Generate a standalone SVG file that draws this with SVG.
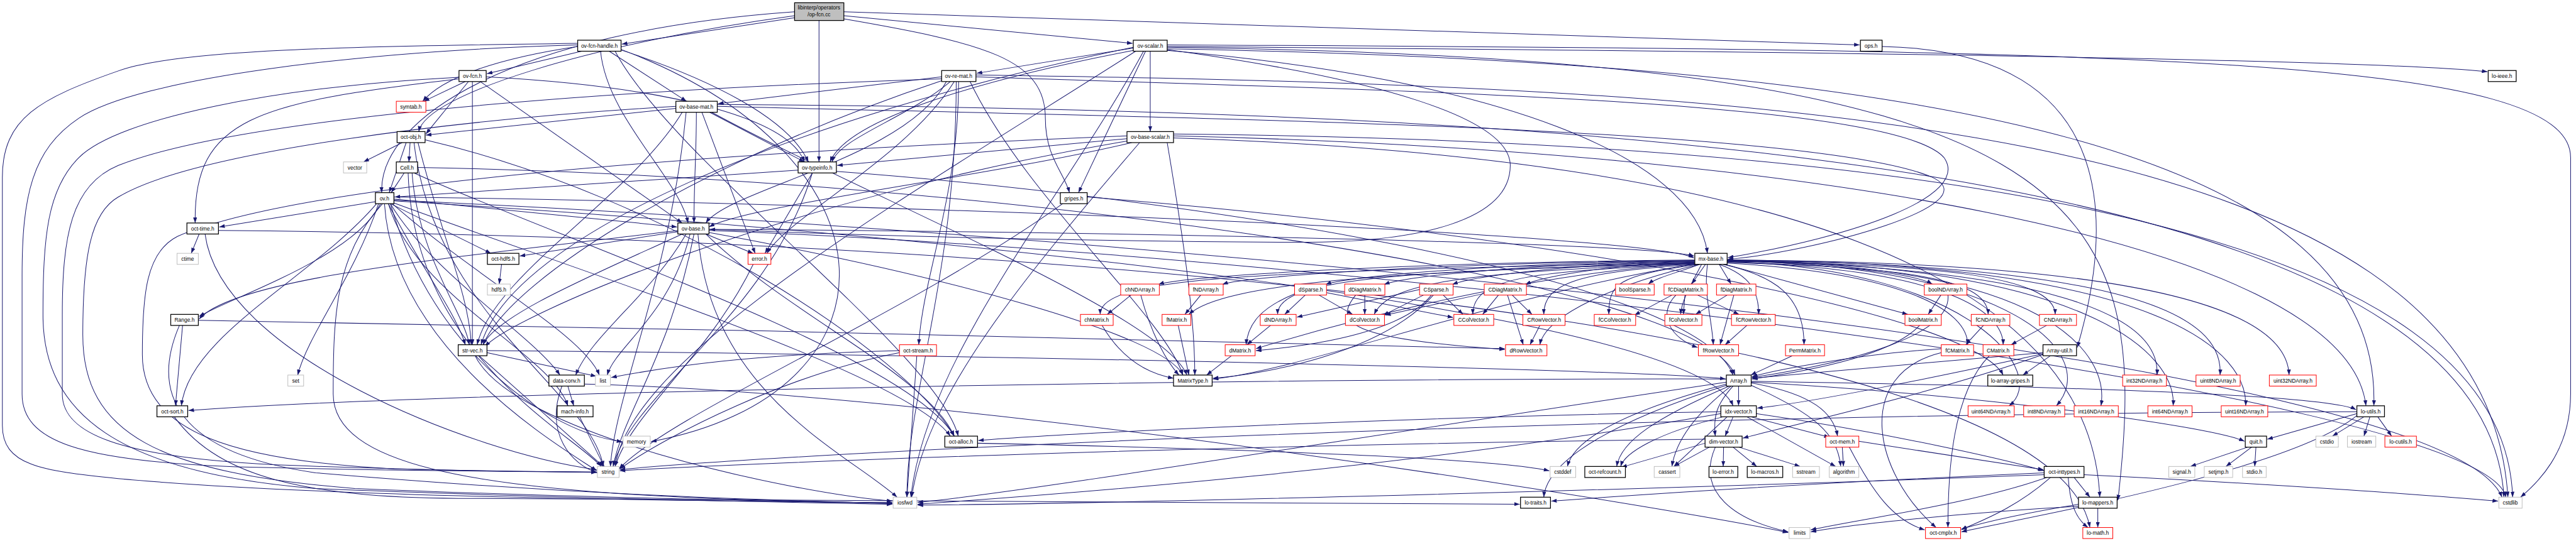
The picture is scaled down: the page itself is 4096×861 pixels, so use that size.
<svg xmlns="http://www.w3.org/2000/svg" width="4096" height="861" viewBox="0 0 4096 861">
<style>
.b rect{fill:#fff;stroke:#000;stroke-width:2}
.r rect{fill:#fff;stroke:#f00;stroke-width:1.6}
.g rect{fill:#fff;stroke:#bfbfbf;stroke-width:1.6}
.root rect{fill:#bfbfbf;stroke:#000;stroke-width:2}
text{font-family:"Liberation Sans",Arial,sans-serif;font-size:13.5px;text-anchor:middle;fill:#000}
#edges path{fill:none;stroke:#191970;stroke-width:1.6;marker-end:url(#a)}
</style>
<defs>
<marker id="a" viewBox="0 0 14 10" refX="14" refY="5" markerWidth="14" markerHeight="10" markerUnits="userSpaceOnUse" orient="auto"><path d="M0,0 L14,5 L0,10 z" fill="#191970"/></marker>
</defs>
<rect width="4096" height="861" fill="#fff"/>
<g transform="scale(0.627)">
<g id="edges">
<path d="M2015,45 L1577,112"/>
<path d="M2140,40 L2872,110"/>
<path d="M2140,30 L4716,114"/>
<path d="M2077,52 L2077,411"/>
<path d="M2140,48 C2500,110 2651,150 2651,300 C2651,400 2700,440 2712,489"/>
<path d="M2015,40 C1500,110 1080,240 1062,334"/>
<path d="M2015,30 C1300,80 960,300 968,489"/>
<path d="M1475,130 L1235,187"/>
<path d="M1545,130 L1741,257"/>
<path d="M1523,130 C1540,300 1720,450 1745,566"/>
<path d="M1575,127 C1800,200 2000,300 2050,411"/>
<path d="M1465,118 C1250,150 1120,200 1072,257"/>
<path d="M1560,130 C1700,400 2380,900 2430,1107"/>
<path d="M1465,110 C900,118 450,125 300,180 C100,250 6,300 6,450 L6,1080 C6,1180 100,1195 300,1215 C800,1260 1600,1270 2263,1276"/>
<path d="M1465,114 C900,130 350,200 200,300 C80,380 56,500 56,700 L56,1000 C56,1120 200,1170 600,1185 C1000,1195 1300,1197 1513,1198"/>
<path d="M1574,125 C2300,400 2300,1000 1651,1121"/>
<path d="M2874,122 L2477,186"/>
<path d="M2917,130 L2917,334"/>
<path d="M2905,130 L2735,489"/>
<path d="M2960,126 C3500,200 3830,300 3830,420 C3830,560 3600,615 3300,615 C2600,612 2000,590 1800,582"/>
<path d="M2874,128 C2500,200 2150,300 2105,411"/>
<path d="M2874,120 C2000,300 1300,600 1220,875"/>
<path d="M2960,118 C4500,130 6000,150 6308,182"/>
<path d="M2960,120 C5300,150 5460,500 5371,1270"/>
<path d="M2960,124 C5000,160 6040,400 6020,1030"/>
<path d="M2960,128 C3800,200 4300,400 4330,643"/>
<path d="M2960,114 C5500,125 6519,150 6519,400 L6519,1000 C6519,1150 6430,1230 6392,1262"/>
<path d="M2900,130 C2700,500 2350,900 2310,1262"/>
<path d="M2880,130 C2300,500 1600,900 1560,1184"/>
<path d="M4773,118 C5400,130 5350,600 5268,882"/>
<path d="M1180,207 L1075,257"/>
<path d="M1188,207 L1080,340"/>
<path d="M1218,207 L1730,566"/>
<path d="M1233,195 C1700,220 2000,300 2040,411"/>
<path d="M1198,207 L1198,875"/>
<path d="M1164,200 C650,260 490,300 495,566"/>
<path d="M1164,196 C700,220 300,300 200,400 C120,480 109,600 109,800 C109,1050 300,1200 800,1240 C1400,1265 2000,1275 2263,1280"/>
<path d="M2388,195 L1821,263"/>
<path d="M2400,207 C2300,400 1850,480 1790,566"/>
<path d="M2410,207 C2300,300 2130,350 2110,411"/>
<path d="M2475,195 C3500,230 4800,250 4930,400 C5000,500 4700,600 4382,654"/>
<path d="M2388,205 C1800,400 1300,700 1225,875"/>
<path d="M2420,207 C2300,400 2000,550 1945,643"/>
<path d="M2431,207 C2431,500 2340,700 2330,875"/>
<path d="M2460,207 C2600,500 2950,800 3000,952"/>
<path d="M2475,190 C4500,220 6300,300 6360,1262"/>
<path d="M2425,207 C2425,700 2300,1000 2300,1262"/>
<path d="M2388,200 C1500,230 600,300 300,420 C180,470 158,600 158,800 L158,1000 C158,1100 300,1160 700,1180 C1100,1195 1350,1198 1513,1199"/>
<path d="M1766,285 C1766,400 1760,450 1760,566"/>
<path d="M1714,275 L1080,343"/>
<path d="M1800,285 L2040,411"/>
<path d="M1780,285 L1915,643"/>
<path d="M1819,270 C3000,300 4600,320 4900,450 C5050,520 4600,640 4382,658"/>
<path d="M1730,285 C1600,500 1250,700 1210,875"/>
<path d="M1805,285 C2200,500 2950,800 3010,952"/>
<path d="M1819,265 C4000,280 6300,400 6350,1262"/>
<path d="M1714,270 C1200,300 500,380 300,500 C230,540 210,650 210,850 C210,1100 400,1200 900,1240 C1500,1265 2000,1272 2263,1278"/>
<path d="M1740,285 C1700,700 1560,1000 1548,1184"/>
<path d="M1020,362 L922,411"/>
<path d="M1040,362 L1037,411"/>
<path d="M1030,362 L987,489"/>
<path d="M1060,362 C1120,600 1190,750 1195,875"/>
<path d="M1078,355 C1700,500 2300,900 2420,1107"/>
<path d="M1050,362 C1100,800 1500,1000 1530,1184"/>
<path d="M2858,352 L2123,420"/>
<path d="M2870,362 C2500,450 1900,520 1798,576"/>
<path d="M2858,358 C2000,500 1300,800 1230,880"/>
<path d="M2960,362 C3000,600 3030,800 3030,952"/>
<path d="M2976,350 C4500,400 5300,700 5325,1262"/>
<path d="M2976,345 C4500,380 5950,600 6000,1030"/>
<path d="M2976,340 C5000,360 6350,600 6372,1262"/>
<path d="M2890,362 C2600,700 2350,1000 2312,1262"/>
<path d="M2858,345 C2000,380 800,450 450,600 C370,640 361,750 361,900 C361,1100 600,1170 1000,1190 C1300,1197 1450,1198 1513,1198"/>
<path d="M1025,439 L992,489"/>
<path d="M1059,425 C2500,450 4300,700 4400,952"/>
<path d="M1050,439 C1400,600 2300,900 2420,1107"/>
<path d="M1045,439 C1060,650 1180,800 1190,875"/>
<path d="M1035,439 C1050,900 1450,1100 1525,1184"/>
<path d="M2024,432 L1001,500"/>
<path d="M2121,435 C3000,500 4300,700 4395,952"/>
<path d="M2060,439 L1940,643"/>
<path d="M2060,439 C1950,800 1600,1000 1555,1184"/>
<path d="M952,512 L556,576"/>
<path d="M999,505 L1717,576"/>
<path d="M965,517 C900,650 600,750 505,803"/>
<path d="M990,517 C1100,700 1350,850 1420,952"/>
<path d="M999,510 C2500,600 4300,800 4395,1030"/>
<path d="M985,517 C1050,750 1400,900 1440,1030"/>
<path d="M999,500 C2500,520 4200,600 4296,655"/>
<path d="M999,515 C1500,700 2300,950 2410,1107"/>
<path d="M985,517 C1050,650 1160,800 1180,875"/>
<path d="M990,517 L1245,643"/>
<path d="M955,517 C800,700 480,850 460,1030"/>
<path d="M995,517 C1200,700 1480,850 1520,952"/>
<path d="M975,517 C1000,900 1450,1150 1513,1195"/>
<path d="M970,517 C850,650 845,800 845,1000 C845,1180 1200,1240 1800,1265 C2100,1275 2200,1276 2263,1276"/>
<path d="M999,508 C3000,600 6200,900 6345,1262"/>
<path d="M960,517 C900,700 780,850 755,952"/>
<path d="M990,517 C1100,900 1400,1100 1578,1121"/>
<path d="M2757,500 C4000,600 5000,800 5080,952"/>
<path d="M2695,517 C2300,800 1700,1050 1570,1190"/>
<path d="M505,594 L485,643"/>
<path d="M554,585 C2500,600 5200,800 5300,1339"/>
<path d="M520,594 C560,900 1200,1150 1513,1192"/>
<path d="M1790,594 L1910,643"/>
<path d="M1719,588 L1318,650"/>
<path d="M1719,585 C1200,650 600,700 505,810"/>
<path d="M1740,594 C1650,750 1500,850 1460,952"/>
<path d="M1798,582 C3000,590 4200,620 4296,650"/>
<path d="M1730,594 C1500,700 1260,800 1225,875"/>
<path d="M1798,590 C2400,700 2950,850 3000,952"/>
<path d="M1750,594 C1700,800 1560,880 1540,952"/>
<path d="M1760,594 C1700,900 1580,1050 1555,1184"/>
<path d="M1770,594 C1800,1000 2150,1150 2275,1262"/>
<path d="M1798,585 C3500,650 6300,1000 6355,1262"/>
<path d="M1790,594 C2000,800 2350,950 2420,1107"/>
<path d="M1272,671 L1266,721"/>
<path d="M1910,671 C1800,900 1600,1050 1560,1184"/>
<path d="M4298,660 C3600,665 3000,700 2938,722"/>
<path d="M4298,661 C3700,666 3160,700 3100,722"/>
<path d="M4298,662 C3830,667 3420,700 3362,722"/>
<path d="M4298,663 C3900,668 3570,700 3510,722"/>
<path d="M4298,664 C4000,669 3740,700 3683,722"/>
<path d="M4298,665 C4100,670 3920,700 3868,722"/>
<path d="M4310,671 C4260,690 4200,705 4180,721"/>
<path d="M4325,671 L4290,721"/>
<path d="M4360,671 L4390,721"/>
<path d="M4380,660 C4600,670 4850,690 4900,721"/>
<path d="M4298,666 C3200,690 2790,700 2790,798"/>
<path d="M4298,667 C3500,690 3100,720 3015,798"/>
<path d="M4298,668 C3600,690 3240,700 3240,798"/>
<path d="M4298,669 C3700,690 3520,720 3485,798"/>
<path d="M4298,670 C3900,690 3735,700 3735,798"/>
<path d="M4300,671 C4000,690 3915,720 3915,798"/>
<path d="M4305,671 C4100,700 4080,720 4080,798"/>
<path d="M4315,671 C4290,720 4265,760 4262,798"/>
<path d="M4360,671 C4440,700 4460,740 4460,798"/>
<path d="M4375,671 L4838,798"/>
<path d="M4380,665 C4800,680 5040,700 5042,798"/>
<path d="M4380,663 C4900,670 5210,700 5212,798"/>
<path d="M4298,668 C3800,700 3300,850 3185,885"/>
<path d="M4310,671 C4100,720 3920,800 3905,875"/>
<path d="M4330,671 C4320,750 4340,800 4345,875"/>
<path d="M4370,671 C4500,700 4575,750 4575,875"/>
<path d="M4380,668 C4800,690 4990,780 4990,875"/>
<path d="M4380,666 C4900,680 5080,780 5080,875"/>
<path d="M4298,670 C3800,750 3300,940 3076,962"/>
<path d="M4380,662 C5200,680 5480,800 5470,952"/>
<path d="M4380,661 C5400,670 5640,800 5630,952"/>
<path d="M4380,660 C5500,665 5800,800 5805,952"/>
<path d="M4380,664 C5000,680 5200,950 5095,1030"/>
<path d="M4380,663 C5100,670 5330,900 5215,1030"/>
<path d="M4380,662 C5200,670 5350,900 5328,1030"/>
<path d="M4380,661 C5300,670 5520,900 5511,1030"/>
<path d="M4380,660 C5500,665 5700,900 5695,1030"/>
<path d="M2868,749 L2808,798"/>
<path d="M2893,749 C2920,850 2960,920 2990,952"/>
<path d="M3045,749 L3005,798"/>
<path d="M2795,826 C2850,920 2920,950 2976,960"/>
<path d="M2988,826 L3015,952"/>
<path d="M3123,903 L3060,952"/>
<path d="M3310,749 L3258,798"/>
<path d="M3345,749 L3430,798"/>
<path d="M3364,743 L3685,806"/>
<path d="M3283,746 C3200,780 3165,820 3160,875"/>
<path d="M3461,749 L3461,798"/>
<path d="M3438,749 C3380,820 3420,860 3816,887"/>
<path d="M3600,735 L3289,805"/>
<path d="M3610,749 L3508,800"/>
<path d="M3660,749 L3710,798"/>
<path d="M3630,749 C3550,850 3300,880 3185,890"/>
<path d="M3635,749 C3500,900 3200,950 3076,960"/>
<path d="M3800,749 L3760,798"/>
<path d="M3835,749 L3885,798"/>
<path d="M3823,749 L3863,875"/>
<path d="M3764,745 L3513,800"/>
<path d="M3905,826 L3880,875"/>
<path d="M3222,826 L3162,875"/>
<path d="M4273,749 L4269,798"/>
<path d="M4240,749 L4145,800"/>
<path d="M4305,749 L4410,798"/>
<path d="M4250,749 C4200,800 4240,860 4305,882"/>
<path d="M4380,749 L4300,798"/>
<path d="M4397,749 L4362,875"/>
<path d="M4430,826 L4375,875"/>
<path d="M4922,749 L4890,798"/>
<path d="M4940,749 C4950,850 4700,920 4443,958"/>
<path d="M4868,826 C4800,900 4600,940 4443,962"/>
<path d="M5030,826 L4985,875"/>
<path d="M5190,826 L5100,875"/>
<path d="M4545,903 L4440,952"/>
<path d="M4923,895 C4700,950 4750,1200 4910,1339"/>
<path d="M5045,903 C4950,1000 4940,1200 4940,1339"/>
<path d="M4923,885 C4700,900 4500,940 4443,956"/>
<path d="M5181,895 C4900,920 4600,945 4443,960"/>
<path d="M5200,903 L5130,952"/>
<path d="M5181,900 C4900,1000 4500,1090 4420,1112"/>
<path d="M5181,898 C4900,960 4600,1020 4456,1036"/>
<path d="M4409,980 L4409,1030"/>
<path d="M4395,980 C4350,1030 4345,1060 4350,1107"/>
<path d="M4441,972 C4600,1000 4650,1050 4660,1107"/>
<path d="M4441,978 C4600,1050 4660,1100 4668,1184"/>
<path d="M4390,980 C4300,1050 4250,1120 4240,1184"/>
<path d="M4378,975 C4100,1050 3990,1120 3975,1184"/>
<path d="M4385,980 C4200,1060 4110,1120 4100,1184"/>
<path d="M4378,978 C4000,1100 3920,1200 3915,1262"/>
<path d="M4441,968 C5200,980 5900,1000 5975,1040"/>
<path d="M4378,962 C3000,960 1000,1000 478,1042"/>
<path d="M4441,970 C5000,1000 5600,1080 5692,1120"/>
<path d="M4378,970 C3500,1100 2600,1250 2327,1275"/>
<path d="M4395,1058 L4375,1107"/>
<path d="M4454,1050 C4800,1100 5100,1170 5184,1195"/>
<path d="M4440,1058 L4640,1110"/>
<path d="M4430,1058 L4655,1184"/>
<path d="M4380,1058 L4245,1184"/>
<path d="M4364,1045 C3500,1060 2700,1100 2481,1118"/>
<path d="M4370,1058 C4200,1100 4120,1150 4110,1184"/>
<path d="M4364,1050 C3500,1200 2600,1260 2327,1280"/>
<path d="M4371,1135 L4370,1184"/>
<path d="M4395,1135 L4455,1184"/>
<path d="M4410,1135 L4565,1184"/>
<path d="M4335,1135 L4245,1184"/>
<path d="M4350,1135 C4300,1250 4400,1320 4535,1350"/>
<path d="M4324,1125 L4112,1186"/>
<path d="M4324,1115 C3000,1130 1800,1180 1572,1195"/>
<path d="M4672,1135 L4675,1184"/>
<path d="M4690,1135 C4750,1250 4800,1320 4881,1345"/>
<path d="M4714,1120 C4900,1150 5100,1180 5182,1192"/>
<path d="M5260,1212 L5300,1262"/>
<path d="M5245,1212 C5250,1290 5270,1320 5295,1339"/>
<path d="M5190,1212 C5000,1280 4700,1320 4592,1345"/>
<path d="M5200,1212 C5100,1300 5000,1330 4974,1345"/>
<path d="M5184,1200 C4500,1230 4100,1260 3934,1272"/>
<path d="M5285,1205 C5800,1230 6200,1260 6335,1272"/>
<path d="M5184,1205 C4000,1250 2700,1280 2327,1282"/>
<path d="M5320,1290 L5320,1339"/>
<path d="M5271,1280 C5150,1300 5050,1320 4974,1343"/>
<path d="M5271,1285 C5000,1300 4700,1330 4592,1350"/>
<path d="M5995,1058 L5915,1107"/>
<path d="M6010,1058 L5995,1107"/>
<path d="M6030,1058 L6065,1107"/>
<path d="M5977,1050 L5750,1115"/>
<path d="M5977,1055 C5800,1200 5100,1320 4974,1350"/>
<path d="M5977,1045 C4000,1050 2000,1150 1572,1192"/>
<path d="M5700,1135 L5555,1184"/>
<path d="M5710,1135 L5645,1184"/>
<path d="M5721,1135 L5718,1184"/>
<path d="M1235,895 L1512,955"/>
<path d="M1215,903 L1530,1184"/>
<path d="M1235,890 C2500,900 4200,940 4376,962"/>
<path d="M1205,903 C1300,1100 2000,1250 2263,1272"/>
<path d="M1440,980 L1455,1030"/>
<path d="M1482,975 C2500,1000 4300,1300 4535,1352"/>
<path d="M1425,980 C1380,1100 1450,1180 1515,1200"/>
<path d="M1470,1058 L1532,1184"/>
<path d="M463,826 L445,1030"/>
<path d="M503,813 C1500,830 3000,860 3816,885"/>
<path d="M455,826 C380,1000 450,1150 800,1200 C1500,1260 2000,1270 2263,1278"/>
<path d="M442,1058 C560,1220 800,1265 1200,1265 C2500,1265 3700,1275 3854,1280"/>
<path d="M2479,1125 C3200,1140 3800,1165 3929,1195"/>
<path d="M2325,903 L2300,1262"/>
<path d="M2281,895 C2000,950 1700,1100 1572,1190"/>
<path d="M2281,890 C1900,900 1700,930 1550,958"/>
</g>
<g id="n-root" class="root"><rect x="2015" y="7" width="125" height="45"/><text x="2077" y="24.5">libinterp/operators</text><text x="2077" y="41">/op-fcn.cc</text></g>
<g id="n-ovfh" class="b"><rect x="1465" y="102" width="110" height="28"/><text x="1520" y="121">ov-fcn-handle.h</text></g>
<g id="n-ovsc" class="b"><rect x="2874" y="102" width="86" height="28"/><text x="2917" y="121">ov-scalar.h</text></g>
<g id="n-ops" class="b"><rect x="4718" y="102" width="55" height="28"/><text x="4745" y="121">ops.h</text></g>
<g id="n-ovfcn" class="b"><rect x="1164" y="179" width="69" height="28"/><text x="1198" y="198">ov-fcn.h</text></g>
<g id="n-ovrm" class="b"><rect x="2388" y="179" width="87" height="28"/><text x="2431" y="198">ov-re-mat.h</text></g>
<g id="n-loieee" class="b"><rect x="6310" y="179" width="71" height="28"/><text x="6345" y="198">lo-ieee.h</text></g>
<g id="n-symtab" class="r"><rect x="1005" y="257" width="75" height="28"/><text x="1042" y="276">symtab.h</text></g>
<g id="n-ovbm" class="b"><rect x="1714" y="257" width="105" height="28"/><text x="1766" y="276">ov-base-mat.h</text></g>
<g id="n-octobj" class="b"><rect x="1007" y="334" width="71" height="28"/><text x="1042" y="353">oct-obj.h</text></g>
<g id="n-ovbs" class="b"><rect x="2858" y="334" width="118" height="28"/><text x="2917" y="353">ov-base-scalar.h</text></g>
<g id="n-vector" class="g"><rect x="871" y="411" width="59" height="28"/><text x="900" y="430">vector</text></g>
<g id="n-cell" class="b"><rect x="1005" y="411" width="54" height="28"/><text x="1032" y="430">Cell.h</text></g>
<g id="n-ovti" class="b"><rect x="2024" y="411" width="97" height="28"/><text x="2072" y="430">ov-typeinfo.h</text></g>
<g id="n-ov" class="b"><rect x="952" y="489" width="47" height="28"/><text x="975" y="508">ov.h</text></g>
<g id="n-gripes" class="b"><rect x="2689" y="489" width="68" height="28"/><text x="2723" y="508">gripes.h</text></g>
<g id="n-octtime" class="b"><rect x="474" y="566" width="80" height="28"/><text x="514" y="585">oct-time.h</text></g>
<g id="n-ovb" class="b"><rect x="1719" y="566" width="79" height="28"/><text x="1758" y="585">ov-base.h</text></g>
<g id="n-ctime" class="g"><rect x="449" y="643" width="54" height="28"/><text x="476" y="662">ctime</text></g>
<g id="n-octhdf5" class="b"><rect x="1236" y="643" width="80" height="28"/><text x="1276" y="662">oct-hdf5.h</text></g>
<g id="n-error" class="r"><rect x="1897" y="643" width="58" height="28"/><text x="1926" y="662">error.h</text></g>
<g id="n-mxbase" class="b"><rect x="4298" y="643" width="82" height="28"/><text x="4339" y="662">mx-base.h</text></g>
<g id="n-hdf5" class="g"><rect x="1236" y="721" width="58" height="28"/><text x="1265" y="740">hdf5.h</text></g>
<g id="n-chND" class="r"><rect x="2842" y="721" width="98" height="28"/><text x="2891" y="740">chNDArray.h</text></g>
<g id="n-fND" class="r"><rect x="3015" y="721" width="87" height="28"/><text x="3058" y="740">fNDArray.h</text></g>
<g id="n-dSp" class="r"><rect x="3283" y="721" width="81" height="28"/><text x="3324" y="740">dSparse.h</text></g>
<g id="n-dDiag" class="r"><rect x="3410" y="721" width="102" height="28"/><text x="3461" y="740">dDiagMatrix.h</text></g>
<g id="n-CSp" class="r"><rect x="3600" y="721" width="85" height="28"/><text x="3642" y="740">CSparse.h</text></g>
<g id="n-CDiag" class="r"><rect x="3764" y="721" width="107" height="28"/><text x="3817" y="740">CDiagMatrix.h</text></g>
<g id="n-boolSp" class="r"><rect x="4097" y="721" width="98" height="28"/><text x="4146" y="740">boolSparse.h</text></g>
<g id="n-fCDiag" class="r"><rect x="4220" y="721" width="110" height="28"/><text x="4275" y="740">fCDiagMatrix.h</text></g>
<g id="n-fDiag" class="r"><rect x="4353" y="721" width="100" height="28"/><text x="4403" y="740">fDiagMatrix.h</text></g>
<g id="n-boolND" class="r"><rect x="4880" y="721" width="108" height="28"/><text x="4934" y="740">boolNDArray.h</text></g>
<g id="n-range" class="b"><rect x="433" y="798" width="70" height="28"/><text x="468" y="817">Range.h</text></g>
<g id="n-chM" class="r"><rect x="2740" y="798" width="83" height="28"/><text x="2781" y="817">chMatrix.h</text></g>
<g id="n-fM" class="r"><rect x="2947" y="798" width="73" height="28"/><text x="2984" y="817">fMatrix.h</text></g>
<g id="n-dND" class="r"><rect x="3196" y="798" width="91" height="28"/><text x="3241" y="817">dNDArray.h</text></g>
<g id="n-dCV" class="r"><rect x="3412" y="798" width="99" height="28"/><text x="3461" y="817">dColVector.h</text></g>
<g id="n-CCV" class="r"><rect x="3687" y="798" width="101" height="28"/><text x="3737" y="817">CColVector.h</text></g>
<g id="n-CRV" class="r"><rect x="3862" y="798" width="107" height="28"/><text x="3916" y="817">CRowVector.h</text></g>
<g id="n-fCCV" class="r"><rect x="4043" y="798" width="105" height="28"/><text x="4095" y="817">fCColVector.h</text></g>
<g id="n-fCV" class="r"><rect x="4222" y="798" width="94" height="28"/><text x="4269" y="817">fColVector.h</text></g>
<g id="n-fCRV" class="r"><rect x="4391" y="798" width="111" height="28"/><text x="4447" y="817">fCRowVector.h</text></g>
<g id="n-boolM" class="r"><rect x="4831" y="798" width="92" height="28"/><text x="4877" y="817">boolMatrix.h</text></g>
<g id="n-fCND" class="r"><rect x="4999" y="798" width="98" height="28"/><text x="5048" y="817">fCNDArray.h</text></g>
<g id="n-CND" class="r"><rect x="5172" y="798" width="94" height="28"/><text x="5219" y="817">CNDArray.h</text></g>
<g id="n-strvec" class="b"><rect x="1162" y="875" width="73" height="28"/><text x="1198" y="894">str-vec.h</text></g>
<g id="n-octstream" class="r"><rect x="2281" y="875" width="94" height="28"/><text x="2328" y="894">oct-stream.h</text></g>
<g id="n-dM" class="r"><rect x="3107" y="875" width="76" height="28"/><text x="3145" y="894">dMatrix.h</text></g>
<g id="n-dRV" class="r"><rect x="3818" y="875" width="105" height="28"/><text x="3870" y="894">dRowVector.h</text></g>
<g id="n-fRV" class="r"><rect x="4307" y="875" width="102" height="28"/><text x="4358" y="894">fRowVector.h</text></g>
<g id="n-perm" class="r"><rect x="4528" y="875" width="99" height="28"/><text x="4577" y="894">PermMatrix.h</text></g>
<g id="n-fCM" class="r"><rect x="4923" y="875" width="82" height="28"/><text x="4964" y="894">fCMatrix.h</text></g>
<g id="n-CM" class="r"><rect x="5029" y="875" width="78" height="28"/><text x="5067" y="894">CMatrix.h</text></g>
<g id="n-arrutil" class="b"><rect x="5181" y="875" width="85" height="28"/><text x="5223" y="894">Array-util.h</text></g>
<g id="n-dataconv" class="b"><rect x="1392" y="952" width="90" height="28"/><text x="1437" y="971">data-conv.h</text></g>
<g id="n-list" class="g"><rect x="1510" y="952" width="38" height="28"/><text x="1529" y="971">list</text></g>
<g id="n-mtype" class="b"><rect x="2976" y="952" width="98" height="28"/><text x="3025" y="971">MatrixType.h</text></g>
<g id="n-set" class="g"><rect x="730" y="952" width="40" height="28"/><text x="750" y="971">set</text></g>
<g id="n-array" class="b"><rect x="4378" y="952" width="63" height="28"/><text x="4409" y="971">Array.h</text></g>
<g id="n-logripes" class="b"><rect x="5041" y="952" width="114" height="28"/><text x="5098" y="971">lo-array-gripes.h</text></g>
<g id="n-i32" class="r"><rect x="5383" y="952" width="111" height="28"/><text x="5438" y="971">int32NDArray.h</text></g>
<g id="n-u8" class="r"><rect x="5569" y="952" width="112" height="28"/><text x="5625" y="971">uint8NDArray.h</text></g>
<g id="n-u32" class="r"><rect x="5755" y="952" width="119" height="28"/><text x="5815" y="971">uint32NDArray.h</text></g>
<g id="n-machinfo" class="b"><rect x="1413" y="1030" width="91" height="28"/><text x="1458" y="1049">mach-info.h</text></g>
<g id="n-octsort" class="b"><rect x="398" y="1030" width="78" height="28"/><text x="437" y="1049">oct-sort.h</text></g>
<g id="n-idx" class="b"><rect x="4364" y="1030" width="90" height="28"/><text x="4409" y="1049">idx-vector.h</text></g>
<g id="n-u64" class="r"><rect x="4991" y="1030" width="117" height="28"/><text x="5049" y="1049">uint64NDArray.h</text></g>
<g id="n-i8" class="r"><rect x="5132" y="1030" width="104" height="28"/><text x="5184" y="1049">int8NDArray.h</text></g>
<g id="n-i16" class="r"><rect x="5260" y="1030" width="112" height="28"/><text x="5316" y="1049">int16NDArray.h</text></g>
<g id="n-i64" class="r"><rect x="5447" y="1030" width="112" height="28"/><text x="5503" y="1049">int64NDArray.h</text></g>
<g id="n-u16" class="r"><rect x="5633" y="1030" width="118" height="28"/><text x="5692" y="1049">uint16NDArray.h</text></g>
<g id="n-loutils" class="b"><rect x="5977" y="1030" width="70" height="28"/><text x="6012" y="1049">lo-utils.h</text></g>
<g id="n-memory" class="g"><rect x="1580" y="1107" width="69" height="28"/><text x="1614" y="1126">memory</text></g>
<g id="n-octalloc" class="b"><rect x="2396" y="1107" width="83" height="28"/><text x="2437" y="1126">oct-alloc.h</text></g>
<g id="n-dimvec" class="b"><rect x="4324" y="1107" width="94" height="28"/><text x="4371" y="1126">dim-vector.h</text></g>
<g id="n-octmem" class="r"><rect x="4630" y="1107" width="84" height="28"/><text x="4672" y="1126">oct-mem.h</text></g>
<g id="n-quit" class="b"><rect x="5694" y="1107" width="54" height="28"/><text x="5721" y="1126">quit.h</text></g>
<g id="n-cstdio" class="g"><rect x="5873" y="1107" width="57" height="28"/><text x="5901" y="1126">cstdio</text></g>
<g id="n-iostream" class="g"><rect x="5953" y="1107" width="72" height="28"/><text x="5989" y="1126">iostream</text></g>
<g id="n-locutils" class="r"><rect x="6048" y="1107" width="80" height="28"/><text x="6088" y="1126">lo-cutils.h</text></g>
<g id="n-string" class="g"><rect x="1515" y="1184" width="55" height="28"/><text x="1542" y="1203">string</text></g>
<g id="n-cstddef" class="g"><rect x="3931" y="1184" width="65" height="28"/><text x="3963" y="1203">cstddef</text></g>
<g id="n-refcount" class="b"><rect x="4019" y="1184" width="103" height="28"/><text x="4070" y="1203">oct-refcount.h</text></g>
<g id="n-cassert" class="g"><rect x="4195" y="1184" width="65" height="28"/><text x="4228" y="1203">cassert</text></g>
<g id="n-loerror" class="b"><rect x="4334" y="1184" width="73" height="28"/><text x="4370" y="1203">lo-error.h</text></g>
<g id="n-lomacros" class="b"><rect x="4431" y="1184" width="90" height="28"/><text x="4476" y="1203">lo-macros.h</text></g>
<g id="n-sstream" class="g"><rect x="4546" y="1184" width="68" height="28"/><text x="4580" y="1203">sstream</text></g>
<g id="n-algorithm" class="g"><rect x="4639" y="1184" width="75" height="28"/><text x="4676" y="1203">algorithm</text></g>
<g id="n-inttypes" class="b"><rect x="5184" y="1184" width="101" height="28"/><text x="5235" y="1203">oct-inttypes.h</text></g>
<g id="n-signal" class="g"><rect x="5500" y="1184" width="66" height="28"/><text x="5533" y="1203">signal.h</text></g>
<g id="n-setjmp" class="g"><rect x="5590" y="1184" width="72" height="28"/><text x="5626" y="1203">setjmp.h</text></g>
<g id="n-stdio" class="g"><rect x="5687" y="1184" width="60" height="28"/><text x="5717" y="1203">stdio.h</text></g>
<g id="n-iosfwd" class="g"><rect x="2265" y="1262" width="60" height="28"/><text x="2295" y="1281">iosfwd</text></g>
<g id="n-lotraits" class="b"><rect x="3856" y="1262" width="76" height="28"/><text x="3894" y="1281">lo-traits.h</text></g>
<g id="n-lomappers" class="b"><rect x="5271" y="1262" width="98" height="28"/><text x="5320" y="1281">lo-mappers.h</text></g>
<g id="n-cstdlib" class="g"><rect x="6337" y="1262" width="59" height="28"/><text x="6366" y="1281">cstdlib</text></g>
<g id="n-limits" class="g"><rect x="4537" y="1339" width="53" height="28"/><text x="4564" y="1358">limits</text></g>
<g id="n-octcmplx" class="r"><rect x="4883" y="1339" width="89" height="28"/><text x="4928" y="1358">oct-cmplx.h</text></g>
<g id="n-lomath" class="r"><rect x="5282" y="1339" width="76" height="28"/><text x="5320" y="1358">lo-math.h</text></g>
</g>
</svg>
